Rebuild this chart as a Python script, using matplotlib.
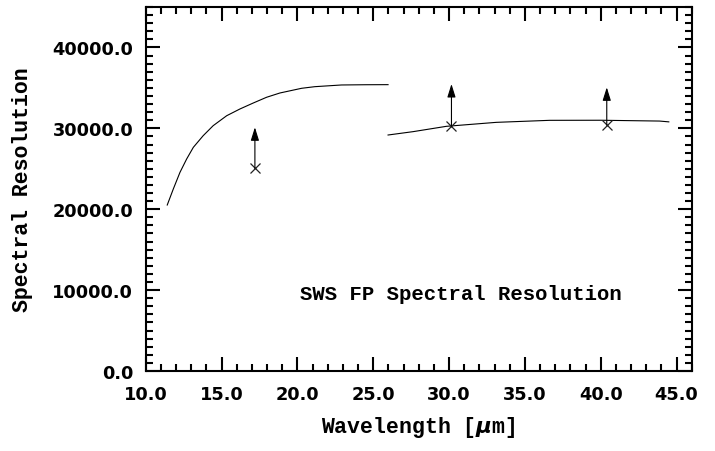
import matplotlib
matplotlib.use("Agg")
import matplotlib.pyplot as plt
from matplotlib.ticker import MultipleLocator, FormatStrFormatter

# Curve 1 (short-wavelength FP)
c1_x = [11.42, 11.82, 12.26, 12.70, 13.14, 13.79, 14.45, 15.34, 16.21, 17.09,
        17.97, 18.85, 20.28, 21.15, 22.91, 24.5, 25.98]
c1_y = [20520, 22500, 24560, 26210, 27650, 29090, 30330, 31560, 32390, 33130,
        33840, 34370, 34950, 35150, 35360, 35390, 35400]

# Curve 2 (long-wavelength FP)
c2_x = [25.98, 27.63, 29.83, 33.12, 36.63, 40.0, 43.88, 44.49]
c2_y = [29175, 29590, 30250, 30740, 30990, 31000, 30900, 30800]

# Measured points and arrow tips
pt_x = [17.2, 30.16, 40.4]
pt_y = [25060, 30250, 30410]
tip_y = [30130, 35480, 35070]

x_ticks = [10, 15, 20, 25, 30, 35, 40, 45]
y_ticks = [0, 10000, 20000, 30000, 40000]

plt.rcParams["font.family"] = ["DejaVu Sans"]
plt.rcParams["font.weight"] = "bold"

W, H = 715, 452
fig = plt.figure(figsize=(W / 100, H / 100), dpi=100)
ax = fig.add_axes([145.7 / W, 1 - 372 / H, (691.7 - 145.7) / W, (372 - 8) / H])

ax.plot(c1_x, c1_y, color="black", lw=0.8)
ax.plot(c2_x, c2_y, color="black", lw=0.8)
ax.plot(pt_x, pt_y, linestyle="none", marker="x", color="#222222", ms=7, mew=0.9)
for x, y0, y1 in zip(pt_x, pt_y, tip_y):
    ax.annotate("", xy=(x, y1), xytext=(x, y0),
                arrowprops=dict(arrowstyle="-|>,head_length=0.8,head_width=0.25",
                                color="black", lw=0.8, shrinkA=0, shrinkB=0,
                                mutation_scale=10))

ax.set_xlim(10, 46)
ax.set_ylim(0, 45000)
ax.set_xticks(x_ticks)
ax.set_yticks(y_ticks)
ax.xaxis.set_minor_locator(MultipleLocator(1))
ax.yaxis.set_minor_locator(MultipleLocator(1000))
ax.xaxis.set_major_formatter(FormatStrFormatter("%.1f"))
ax.yaxis.set_major_formatter(FormatStrFormatter("%.1f"))

for s in ax.spines.values():
    s.set_linewidth(1.5)
ax.tick_params(which="both", direction="in", top=True, right=True, width=1.5)
ax.tick_params(which="major", length=10, pad=9, labelsize=12.8)
ax.tick_params(which="minor", length=5)
ax.tick_params(axis="x", which="major", pad=10)

mono = dict(family="Liberation Mono", weight="bold", size=15.5)
ax.set_xlabel("Wavelength [$\\mu$m]", fontdict=mono, labelpad=8)
ax.set_ylabel("Spectral Resolution", fontdict=mono)
ax.yaxis.set_label_coords((33 - 145.7) / 546, 0.5)
ax.text(20.2, 8900, "SWS FP Spectral Resolution", ha="left", va="baseline",
        fontdict=dict(family="Liberation Mono", weight="bold", size=14.9))

fig.savefig("out.png", dpi=100)
